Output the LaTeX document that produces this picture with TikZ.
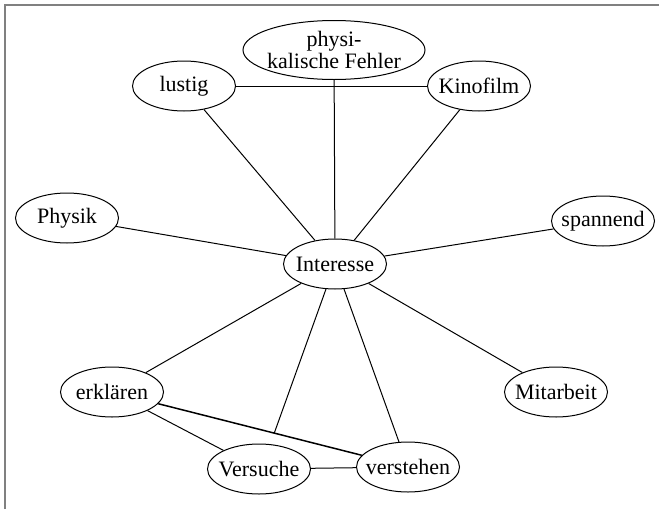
\documentclass[tikz,border=0pt]{standalone}
\usepackage{fontspec}
\setmainfont{Liberation Serif}
\usetikzlibrary{shapes.geometric}

\begin{document}
\begin{tikzpicture}[x=0.5pt,y=-0.5pt,line width=0.5pt,
    begriff/.style={draw,ellipse,inner xsep=-5pt,inner ysep=0pt,
      minimum width=51.5pt,minimum height=25pt,
      font=\fontsize{11}{9.5}\selectfont,align=center}]
    \useasboundingbox (0,0) rectangle (659,509);
    \draw[gray,line width=0.7pt] (5,509)--(5,5)--(659,5);
    \node[begriff,minimum width=91pt,minimum height=29.5pt] (fehler) at (334,50)
      {physi-\\kalische Fehler};
    \foreach \n/\x/\y/\t in {lustig/184/86/lustig,kino/479/86/Kinofilm,
        physik/67/218/Physik,spannend/603/221/spannend,interesse/335/264/Interesse,
        erklaeren/112/392/erklären,mitarbeit/556/392/Mitarbeit,
        versuche/259/469/Versuche,verstehen/408/467/verstehen}
      \node[begriff] (\n) at (\x,\y) {\t};
    \foreach \a/\b in {lustig/kino,fehler/interesse,lustig/interesse,kino/interesse,
        physik/interesse,spannend/interesse,erklaeren/interesse,verstehen/interesse,
        mitarbeit/interesse,erklaeren/versuche,versuche/verstehen}
      \draw (\a)--(\b);
    \draw[line width=0.75pt] (erklaeren) -- coordinate[pos=0.57] (kreuz) (verstehen);
    \draw (interesse)--(kreuz);
  \end{tikzpicture}
\end{document}
